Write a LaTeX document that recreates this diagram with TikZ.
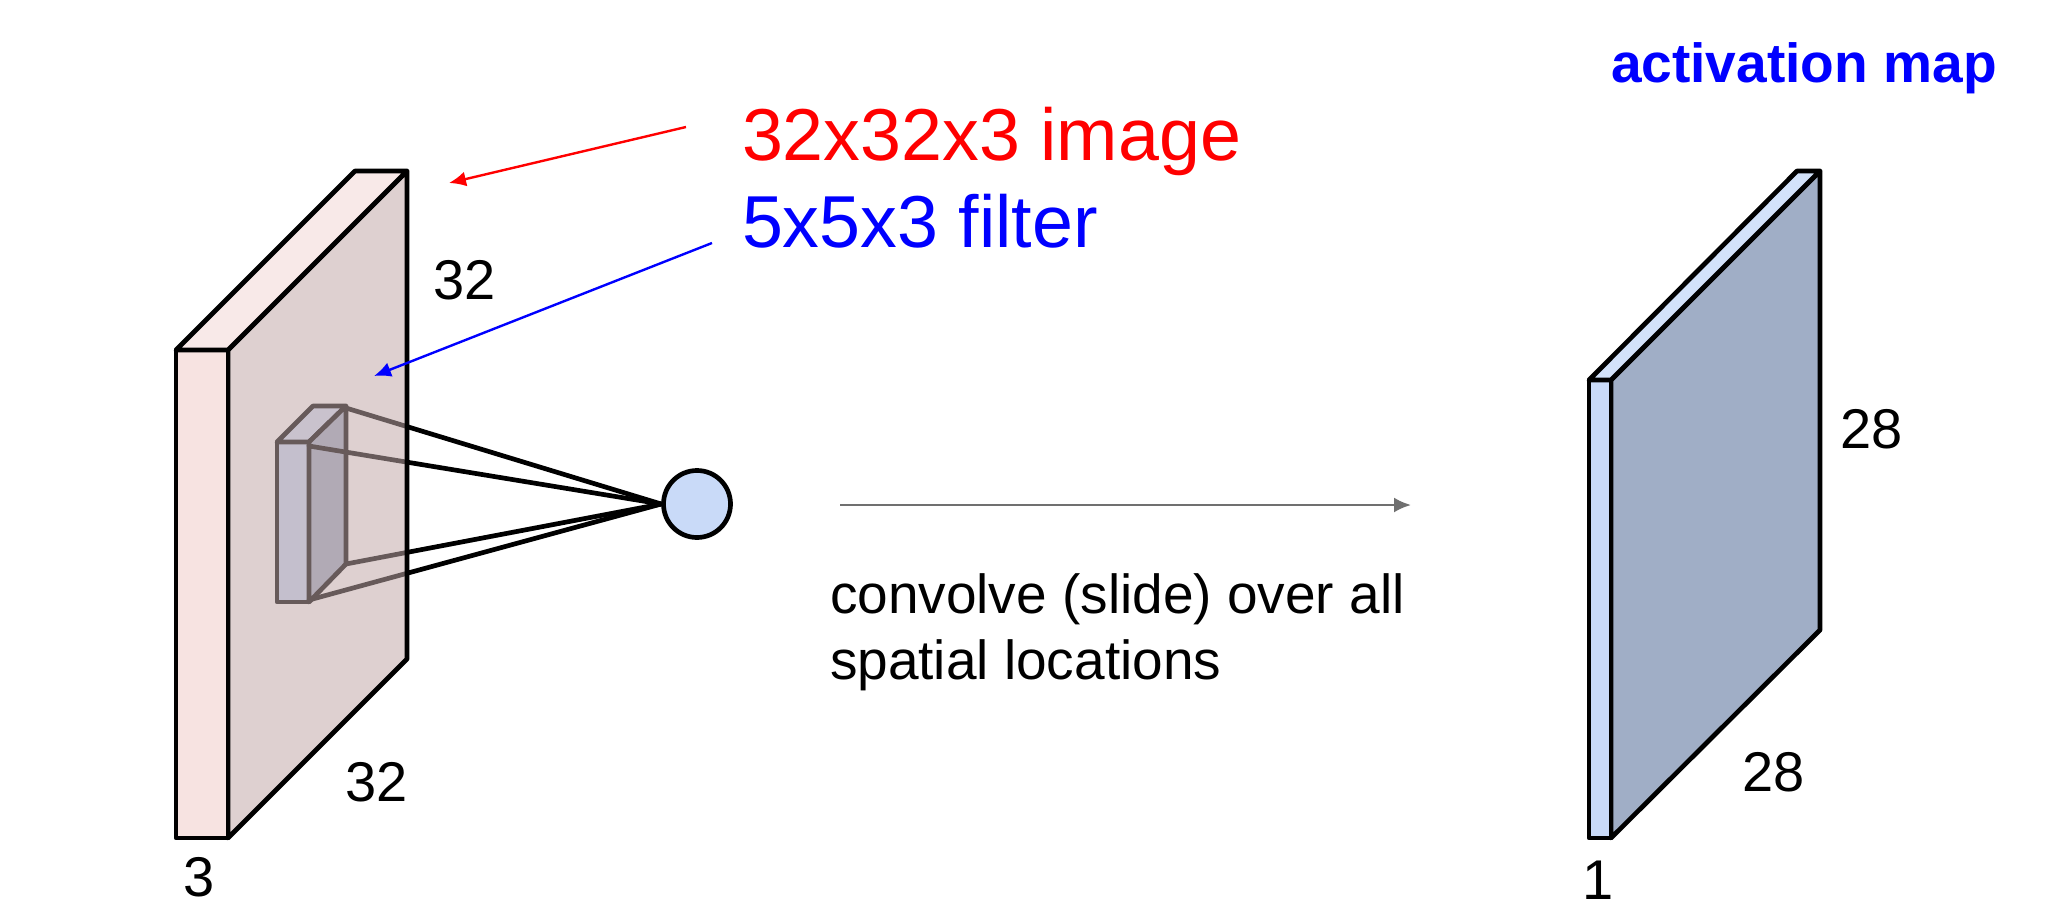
\documentclass[tikz,border=0pt]{standalone}
\usepackage{fontspec}
\setmainfont{Liberation Sans}
\definecolor{filterfront}{RGB}{201,218,248}
\definecolor{filterside}{RGB}{160,174,198}
\definecolor{filtertop}{RGB}{211,226,250}
\definecolor{veil}{RGB}{193,168,168}
\definecolor{imgfront}{RGB}{247,227,225}
\definecolor{imgtop}{RGB}{248,233,232}
\definecolor{flowgrey}{RGB}{112,112,112}
\tikzset{
  edge/.style={draw=black,line width=2.35pt,line join=round,line cap=round},
  lab/.style={anchor=base west,inner sep=0pt,outer sep=0pt},
  dim/.style={lab,font=\fontsize{28}{28}\selectfont},
  big/.style={lab,font=\fontsize{36.8}{36.8}\selectfont},
  body/.style={lab,font=\fontsize{27.5}{27.5}\selectfont},
  pointer/.style={line width=1.2pt,-{Latex[length=8.5pt,width=7.5pt]}},
}
\usetikzlibrary{arrows.meta}
\begin{document}
\begin{tikzpicture}[x=0.5pt,y=-0.5pt]
\useasboundingbox (0,0) rectangle (2048,904);
% filter block, seen through the image's face
\path[edge,fill=filterfront] (277,442) -- (309,442) -- (309,602) -- (277,602) -- cycle;
\path[edge,fill=filtertop] (277,442) -- (313,406) -- (346,406) -- (309,442) -- cycle;
\path[edge,fill=filterside] (309,442) -- (346,406) -- (346,564) -- (309,602) -- cycle;
% neuron
\node[circle,draw=black,line width=2.35pt,fill=filterfront,minimum size=33.5pt,inner sep=0pt] (neuron) at (697,504) {};
\coordinate (fa) at (346,408);
\coordinate (fb) at (309,446);
\coordinate (fc) at (346,564);
\coordinate (fd) at (309,600);
\foreach \c in {fa,fb,fc,fd} \draw[edge] (\c) -- (neuron.west);
% image volume
\fill[veil,opacity=0.537] (228,350) -- (407,171) -- (407,659) -- (228,838) -- cycle;
\path[edge] (228,350) -- (407,171) -- (407,659) -- (228,838) -- cycle;
\path[edge,fill=imgfront] (176,350) -- (228,350) -- (228,838) -- (176,838) -- cycle;
\path[edge,fill=imgtop] (176,350) -- (355,171) -- (407,171) -- (228,350) -- cycle;
% activation map volume
\path[edge,fill=filterside] (1611,380) -- (1820,171) -- (1820,630) -- (1611,838) -- cycle;
\path[edge,fill=filterfront] (1589,380) -- (1611,380) -- (1611,838) -- (1589,838) -- cycle;
\path[edge,fill=filtertop] (1589,380) -- (1797,171) -- (1820,171) -- (1611,380) -- cycle;
% labels
\node[dim] (d32a) at (433,299) {32};
\node[dim] (d32b) at (345,801) {32};
\node[dim] (d3) at (183,896) {3};
\node[dim] (d28a) at (1840,448) {28};
\node[dim] (d28b) at (1742,791) {28};
\node[dim] (d1) at (1582,899) {1};
\node[big,text=red] (imglab) at (742,160) {32x32x3 image};
\node[big,text=blue] (fltlab) at (742,247) {5x5x3 filter};
\node[body] (conva) at (830,613) {convolve (slide) over all};
\node[body] (convb) at (830,679) {spatial locations};
\node[lab,text=blue,font=\bfseries\fontsize{27.55}{27.55}\selectfont] (amap) at (1611,83) {activation map};
% pointers
\coordinate (ra) at (686,127);
\coordinate (rb) at (449,183);
\coordinate (ba) at (712,243);
\coordinate (bb) at (374,376);
\coordinate (ga) at (840,505);
\coordinate (gb) at (1411,505);
\draw[pointer,red] (ra) -- (rb);
\draw[pointer,blue] (ba) -- (bb);
\draw[pointer,flowgrey] (ga) -- (gb);
\end{tikzpicture}
\end{document}
